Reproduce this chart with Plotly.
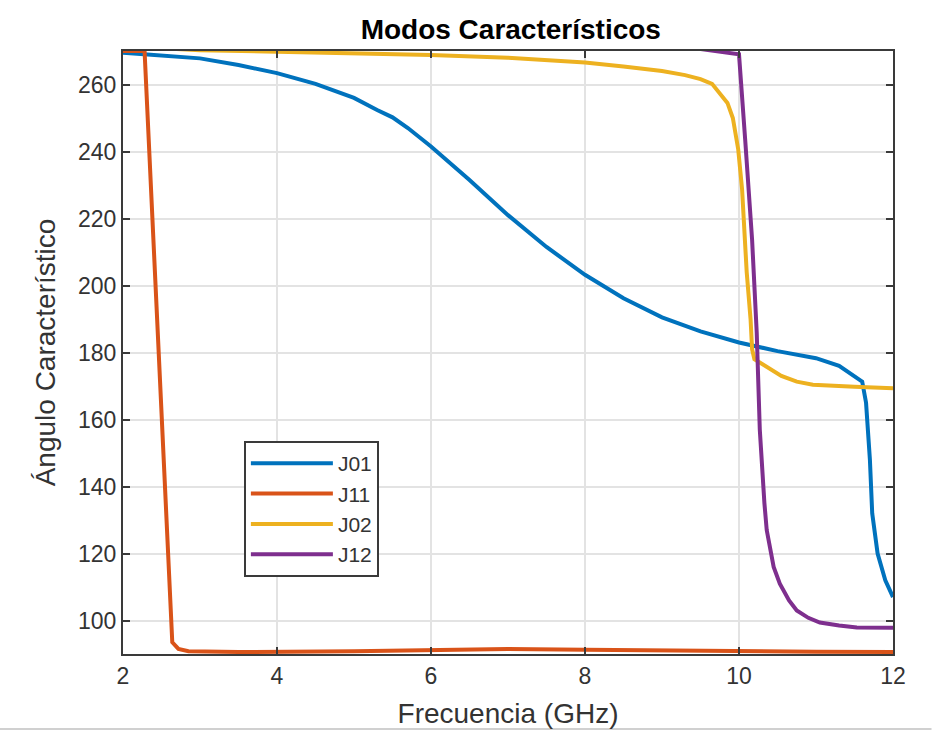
import plotly.graph_objects as go

# ---- data ----
x_j01 = [2.0, 2.5, 3.0, 3.5, 4.0, 4.5, 5.0, 5.3, 5.5, 5.7, 6.0, 6.5, 7.0, 7.5, 8.0, 8.5,
         9.0, 9.5, 10.0, 10.5, 11.0, 11.3, 11.5, 11.6, 11.65, 11.7, 11.73, 11.8, 11.9, 12.0]
y_j01 = [269.5, 268.8, 267.8, 265.8, 263.4, 260.2, 256.0, 252.4, 250.2, 247.0, 241.5, 231.5,
         221.0, 211.5, 203.2, 196.2, 190.5, 186.3, 183.0, 180.4, 178.3, 176.0, 173.0, 171.3,
         165.0, 148.0, 132.0, 120.0, 112.0, 107.0]

x_j11 = [2.0, 2.28, 2.64, 2.72, 2.85, 3.5, 5.0, 6.0, 7.0, 8.0, 9.0, 10.0, 11.0, 12.0]
y_j11 = [270.0, 270.0, 93.5, 91.5, 90.8, 90.6, 90.8, 91.2, 91.5, 91.3, 91.0, 90.8, 90.7, 90.6]

x_j02 = [2.0, 3.0, 4.0, 5.0, 6.0, 7.0, 8.0, 8.5, 9.0, 9.3, 9.5, 9.65, 9.75, 9.85, 9.92,
         9.99, 10.04, 10.1, 10.15, 10.17, 10.2, 10.36, 10.55, 10.75, 10.96, 11.5, 12.0]
y_j02 = [271.5, 270.2, 269.8, 269.3, 268.8, 268.0, 266.6, 265.4, 264.0, 262.8, 261.6, 260.2,
         257.5, 254.5, 250.0, 240.6, 228.7, 204.0, 190.0, 181.0, 178.0, 175.8, 173.0, 171.3,
         170.4, 169.8, 169.3]

x_j12 = [2.0, 4.0, 6.0, 8.0, 9.0, 9.5, 10.0, 10.08, 10.17, 10.23, 10.27, 10.33, 10.36, 10.45,
         10.53, 10.65, 10.75, 10.9, 11.05, 11.3, 11.53, 12.0]
y_j12 = [273.0, 272.8, 272.5, 272.0, 271.5, 270.6, 269.0, 243.6, 213.7, 186.0, 157.0, 135.0,
         127.0, 116.0, 111.0, 106.0, 103.0, 100.8, 99.4, 98.5, 97.9, 97.8]

names = ["J01", "J11", "J02", "J12"]
colors = ["#0072BD", "#D95319", "#EDB120", "#7E2F8E"]
series = [(x_j01, y_j01), (x_j11, y_j11), (x_j02, y_j02), (x_j12, y_j12)]

x_ticks = [2, 4, 6, 8, 10, 12]
y_ticks = [100, 120, 140, 160, 180, 200, 220, 240, 260]

FONT = "Liberation Sans, Arial, Helvetica, sans-serif"
TXT = "#333333"
AX = "#3a3a3a"

fig = go.Figure()
for (xs, ys), n, c in zip(series, names, colors):
    fig.add_trace(go.Scatter(x=xs, y=ys, name=n, mode="lines",
                             line=dict(color=c, width=4)))

axis_common = dict(showline=True, linecolor=AX, linewidth=2, mirror="ticks",
                   ticks="inside", ticklen=7, tickcolor=AX, tickwidth=2,
                   showgrid=True, gridcolor="#e3e3e3", gridwidth=1.5,
                   zeroline=False, automargin=False,
                   tickfont=dict(family=FONT, size=23, color=TXT))

fig.update_layout(
    width=933, height=733,
    margin=dict(l=123, r=40, t=51, b=79),
    paper_bgcolor="white", plot_bgcolor="white",
    title=dict(text="<b>Modos Característicos</b>", x=(123 + 893) / 2 / 933 + 0.003,
               xanchor="center", y=1 - 29 / 733, yanchor="middle",
               font=dict(family=FONT, size=28, color="black")),
    xaxis=dict(range=[2, 12], tickvals=x_ticks,
               title=dict(text="Frecuencia (GHz)", standoff=16,
                          font=dict(family=FONT, size=28, color=TXT)),
               **axis_common),
    yaxis=dict(range=[90, 270], tickvals=y_ticks,
               title=dict(text="Ángulo Característico", standoff=14,
                          font=dict(family=FONT, size=28, color=TXT)),
               **axis_common),
    legend=dict(x=0.157, y=0.353, xanchor="left", yanchor="top",
                bgcolor="white", bordercolor=AX, borderwidth=2,
                font=dict(family=FONT, size=21, color=TXT),
                tracegroupgap=0, itemwidth=82),
    showlegend=True,
    shapes=[dict(type="line", xref="paper", yref="paper", layer="below",
                 x0=-123 / 770, x1=1.05, y0=-75 / 603, y1=-75 / 603,
                 line=dict(color="#d0d0d0", width=2))],
)

fig.write_html("out.html")
